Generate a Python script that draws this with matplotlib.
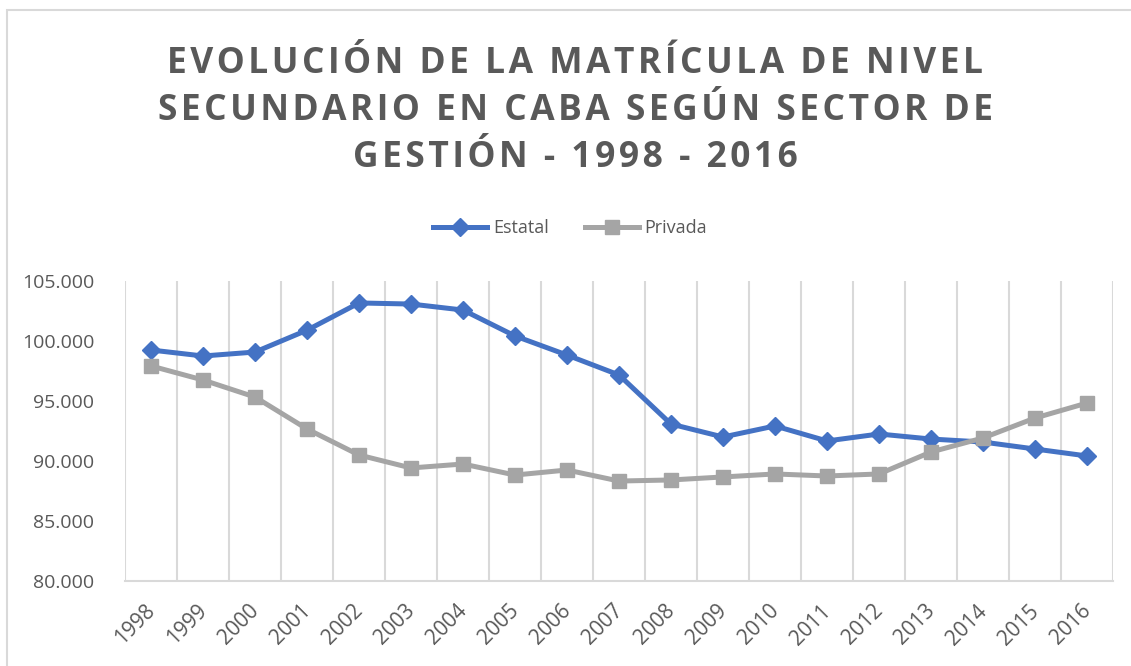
import matplotlib
matplotlib.use("Agg")
import matplotlib.pyplot as plt
import numpy as np
from matplotlib.ticker import FuncFormatter
from matplotlib.patches import Rectangle
from matplotlib.transforms import ScaledTranslation

years = [str(y) for y in range(1998, 2017)]
estatal = [99250, 98750, 99080, 100900, 103170, 103080, 102580, 100420, 98830, 97170,
           93080, 92000, 92920, 91670, 92250, 91830, 91580, 91000, 90420]
privada = [97920, 96750, 95330, 92670, 90500, 89420, 89750, 88830, 89250, 88330,
           88420, 88670, 88920, 88750, 88920, 90750, 91920, 93580, 94830]
title_lines = ['EVOLUCIÓN DE LA MATRÍCULA DE NIVEL',
               'SECUNDARIO EN CABA SEGÚN SECTOR DE',
               'GESTIÓN - 1998 - 2016']

txt = '#595959'
plt.rcParams['font.family'] = ['Open Sans', 'DejaVu Sans']

fig = plt.figure(figsize=(11.31, 6.66), dpi=100)
ax = fig.add_axes([125/1131, 1-581/666, (1113-125)/1131, 300/666])

# borde del área del gráfico
fig.patches.append(Rectangle((7/1131, -0.05), 1.1, 1-10/666+0.05, transform=fig.transFigure,
                             fill=False, edgecolor='#d9d9d9', linewidth=1.5))

x = np.arange(len(years))
ax.plot(x, estatal, color='#4472C4', linewidth=3.6, marker='D', markersize=9.5, label='Estatal')
ax.plot(x, privada, color='#A5A5A5', linewidth=3.6, marker='s', markersize=10.5, label='Privada')

ax.set_xlim(-0.5, len(years) - 0.5)
ax.set_ylim(80000, 105000)
ax.set_yticks(np.arange(80000, 105001, 5000))
ax.yaxis.set_major_formatter(FuncFormatter(lambda v, p: f'{int(v):,}'.replace(',', '.')))
ax.set_xticks(x)
ax.set_xticklabels(years, rotation=45, ha='right', rotation_mode='anchor')
ax.set_xticks(np.arange(-0.5, len(years)), minor=True)
ax.grid(True, which='minor', axis='x', color='#d9d9d9', linewidth=1.5)
ax.tick_params(which='both', length=0)
ax.tick_params(axis='y', labelsize=14, labelcolor=txt, pad=22)
ax.tick_params(axis='x', labelsize=15, labelcolor=txt, pad=14)
shift = ScaledTranslation(-7/100, 0, fig.dpi_scale_trans)
for lab in ax.get_xticklabels():
    lab.set_transform(lab.get_transform() + shift)
for s in ['left', 'right', 'top']:
    ax.spines[s].set_visible(False)
ax.spines['bottom'].set_color('#d9d9d9')
ax.spines['bottom'].set_linewidth(1.5)

# espaciado entre letras con espacios finos
spaced = ['\u200a'.join(line) for line in title_lines]
fig.text(575/1131, 1-111/666, '\n'.join(spaced),
         ha='center', va='center', fontsize=25.5, fontweight='bold', color=txt, linespacing=1.42)

fig.legend(loc='center', bbox_to_anchor=(570/1131, 1-228/666), ncol=2, frameon=False,
           fontsize=13, handlelength=3.0, columnspacing=2.0, handletextpad=0.3,
           labelcolor=txt)

fig.savefig('out.png', dpi=100)
